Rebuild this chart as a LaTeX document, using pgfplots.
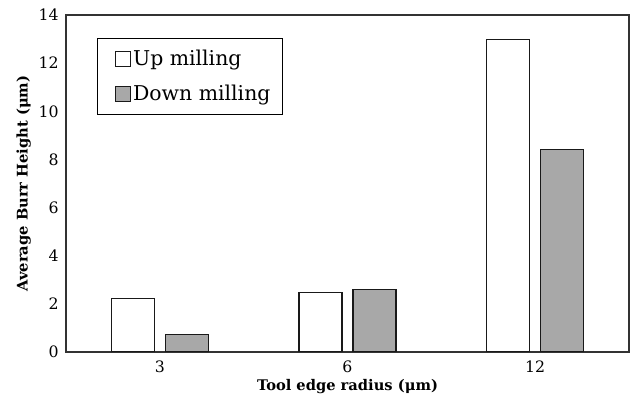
\documentclass[border=0pt]{standalone}
\usepackage{pgfplots}
\pgfplotsset{compat=1.18}
\usepackage{fontspec}
\setmainfont{DejaVu Serif}
\definecolor{bargray}{HTML}{A8A8A8}
\definecolor{axisgray}{HTML}{333333}
\begin{document}
\begin{tikzpicture}
\useasboundingbox (0,0) rectangle (473.25pt,301.5pt);
\begin{axis}[
  at={(49.5pt,37.5pt)}, anchor=south west,
  scale only axis, width=422.25pt, height=252.75pt,
  ybar=8.25pt, bar width=32.25pt,
  xmin=-0.5, xmax=2.5, ymin=0, ymax=14,
  xtick={0,1,2}, xticklabels={3,6,12},
  ytick={0,2,...,14},
  major tick length=0pt,
  axis line style={axisgray, line width=0.9pt},
  /pgf/number format/assume math mode=true,
  tick label style={font=\fontsize{11.8}{13}\selectfont},
  yticklabel style={xshift=-2pt},
  xticklabel style={yshift=-3pt},
  xlabel={\textbf{Tool edge radius (μm)}},
  ylabel={\textbf{Average Burr Height (μm)}},
  label style={font=\fontsize{11}{13}\selectfont},
  xlabel style={yshift=2pt},
  ylabel style={yshift=-1pt},
  legend style={at={(0.055,0.932)}, anchor=north west, draw=black, line width=0.8pt,
    font=\fontsize{15.3}{18}\selectfont, row sep=9pt, inner xsep=7pt, inner ysep=7pt,
    /tikz/every even column/.append style={column sep=3pt}},
  legend cell align=left,
  legend image code/.code={\path (0pt,0pt); \draw[#1, line width=0.6pt] (6pt,-5.5pt) rectangle (17pt,5.5pt);},
]
\addplot[draw=black!90, line width=0.8pt, fill=white] coordinates {(0,2.24) (1,2.46) (2,13.0)};
\addplot[draw=black!90, line width=0.8pt, fill=bargray] coordinates {(0,0.71) (1,2.59) (2,8.4)};
\legend{Up milling, Down milling}
\end{axis}
\end{tikzpicture}
\end{document}
